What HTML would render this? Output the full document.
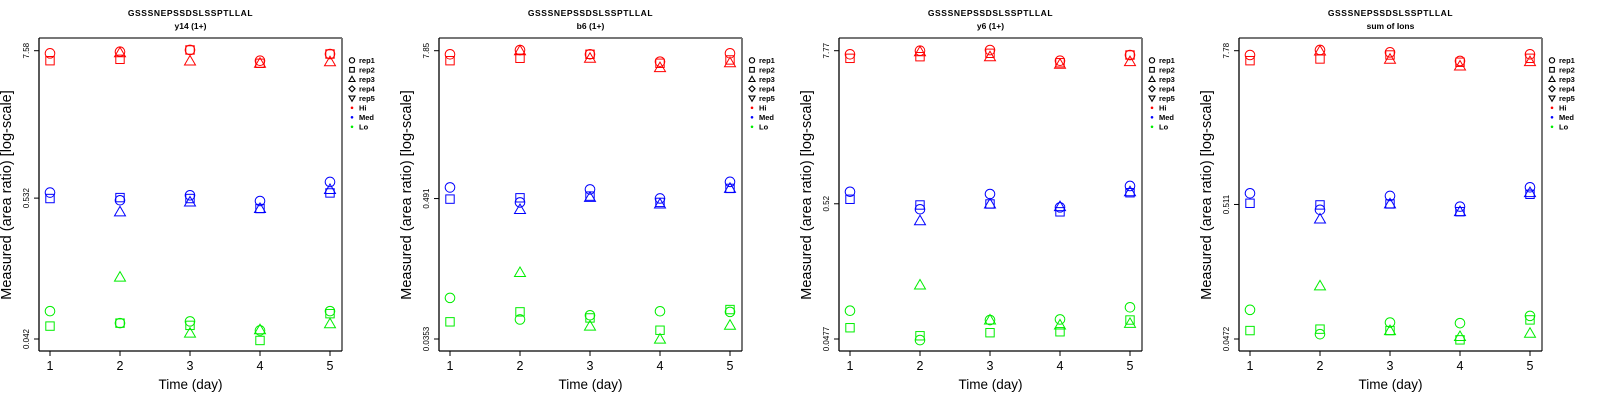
<!DOCTYPE html>
<html><head><meta charset="utf-8"><style>
html,body{margin:0;padding:0;background:#fff;}
svg{display:block;font-family:"Liberation Sans",sans-serif;}
</style></head><body>
<svg id="chart" width="1600" height="400" viewBox="0 0 1600 400" xmlns="http://www.w3.org/2000/svg"></svg>
<script>
const panelTitles = ["y14 (1+)", "b6 (1+)", "y6 (1+)", "sum of Ions"];
const peptide = "GSSSNEPSSDSLSSPTLLAL";
const days = [1, 2, 3, 4, 5];
const yTicks1 = ["7.58", "0.532", "0.042"];
const yTicks2 = ["7.85", "0.491", "0.0353"];
const yTicks3 = ["7.77", "0.52", "0.0477"];
const yTicks4 = ["7.78", "0.511", "0.0472"];
const legendLabels = ["rep1", "rep2", "rep3", "rep4", "rep5", "Hi", "Med", "Lo"];
// values per day: [rep1, rep2, rep3]
const p1Hi = [[7.23,6.33,null],[7.44,6.49,7.31],[7.68,7.68,6.30],[6.33,6.04,6.04],[7.14,7.14,6.21]];
const p1Med = [[0.588,0.528,null],[0.512,0.537,0.415],[0.560,0.528,0.496],[0.505,0.441,0.441],[0.712,0.584,0.621]];
const p1Lo = [[0.0694,0.0530,null],[0.0559,0.0559,0.128],[0.0577,0.0537,0.0467],[0.0490,0.0409,0.0496],[0.0694,0.0663,0.0553]];
const p2Hi = [[7.34,6.51,null],[7.95,6.81,7.85],[7.34,7.34,6.81],[6.39,6.20,5.71],[7.48,6.60,6.26]];
const p2Med = [[0.605,0.486,null],[0.457,0.498,0.400],[0.583,0.514,0.502],[0.492,0.457,0.443],[0.672,0.594,0.594]];
const p2Lo = [[0.0763,0.0487,null],[0.0509,0.0587,0.1228],[0.0551,0.0524,0.0449],[0.0594,0.0416,0.0352],[0.0587,0.0613,0.0457]];
const p3Hi = [[7.29,6.79,null],[7.77,6.99,7.63],[7.86,7.42,6.99],[6.51,6.28,6.11],[7.20,7.20,6.40]];
const p3Med = [[0.643,0.563,null],[0.472,0.509,0.385],[0.618,0.518,0.518],[0.488,0.451,0.494],[0.712,0.632,0.643]];
const p3Lo = [[0.0786,0.0582,null],[0.0468,0.0505,0.1237],[0.0667,0.0533,0.0667],[0.0674,0.0542,0.0611],[0.0835,0.0667,0.0629]];
const p4Hi = [[7.21,6.52,null],[7.88,6.72,7.74],[7.56,7.21,6.68],[6.49,6.34,5.93],[7.30,6.80,6.41]];
const p4Med = [[0.623,0.522,null],[0.465,0.507,0.395],[0.594,0.516,0.516],[0.492,0.450,0.450],[0.693,0.612,0.630]];
const p4Lo = [[0.0791,0.0548,null],[0.0514,0.0562,0.1208],[0.0632,0.0548,0.0548],[0.0625,0.0465,0.0493],[0.0711,0.0662,0.0523]];

const panels = [
  {ticks: yTicks1, groups: [p1Hi, p1Med, p1Lo]},
  {ticks: yTicks2, groups: [p2Hi, p2Med, p2Lo]},
  {ticks: yTicks3, groups: [p3Hi, p3Med, p3Lo]},
  {ticks: yTicks4, groups: [p4Hi, p4Med, p4Lo]}
];
const groupColors = ["#ff0000", "#0000ff", "#00ee00"];
const groupNames = ["hi", "med", "lo"];
const NS = "http://www.w3.org/2000/svg";
const svg = document.getElementById("chart");
function mk(tag, attrs, parent, text) {
  const e = document.createElementNS(NS, tag);
  for (const k in attrs) e.setAttribute(k, attrs[k]);
  if (text !== undefined) e.textContent = text;
  parent.appendChild(e);
  return e;
}
function marker(g, rep, cx, cy, color) {
  let e;
  const st = {fill: "none", stroke: color, "stroke-width": 1};
  if (rep === 0) e = mk("circle", Object.assign({cx: cx, cy: cy, r: 4.8}, st), g);
  else if (rep === 1) e = mk("rect", Object.assign({x: cx - 4.2, y: cy - 4.2, width: 8.4, height: 8.4}, st), g);
  else if (rep === 2) e = mk("polygon", Object.assign({points: `${cx},${cy-5.5} ${cx+5.5},${cy+4} ${cx-5.5},${cy+4}`}, st), g);
  else if (rep === 3) e = mk("polygon", Object.assign({points: `${cx},${cy-5.5} ${cx+5.5},${cy} ${cx},${cy+5.5} ${cx-5.5},${cy}`}, st), g);
  else e = mk("polygon", Object.assign({points: `${cx},${cy+5.5} ${cx+5.5},${cy-4} ${cx-5.5},${cy-4}`}, st), g);
  return e;
}
const L = 39, R = 342, T = 38, B = 351;
const XA = 50, XB = 330, YTOP = 50.7, YBOT = 339;
panels.forEach((p, pi) => {
  const ox = pi * 400;
  const g = mk("g", {transform: `translate(${ox},0)`}, svg);
  
  
  const lnMax = Math.log(parseFloat(p.ticks[0]));
  const lnMin = Math.log(parseFloat(p.ticks[2]));
  const yScale = v => YTOP + (lnMax - Math.log(v)) / (lnMax - lnMin) * (YBOT - YTOP);
  const xScale = d => XA + (d - days[0]) / (days[days.length - 1] - days[0]) * (XB - XA);
  const t1 = mk("text", {x: 190.5, y: 16, "text-anchor": "middle", "font-size": 8.5, "font-weight": "bold", "letter-spacing": "0.6"}, g, peptide);
  
  
  const t2 = mk("text", {x: 190.5, y: 29, "text-anchor": "middle", "font-size": 8.5, "font-weight": "bold"}, g, panelTitles[pi]);
  
  
  const frame = mk("g", {}, g);
  
  
  mk("line", {x1: L, y1: T, x2: R, y2: T, stroke: "#777", "stroke-width": 2}, frame);
  mk("line", {x1: R, y1: T, x2: R, y2: B, stroke: "#777", "stroke-width": 2}, frame);
  mk("line", {x1: L, y1: T, x2: L, y2: B, stroke: "#000", "stroke-width": 1.3}, frame);
  mk("line", {x1: L, y1: B, x2: R, y2: B, stroke: "#000", "stroke-width": 1.3}, frame);
  const xa = mk("g", {}, g);
  
  
  days.forEach(d => {
    const x = xScale(d);
    mk("line", {x1: x, y1: B, x2: x, y2: B + 5, stroke: "#000", "stroke-width": 1}, xa);
    const tl = mk("text", {x: x, y: 370, "text-anchor": "middle", "font-size": 12.5}, xa, String(d));
    
    
  });
  const xt = mk("text", {x: 190.5, y: 389, "text-anchor": "middle", "font-size": 13.5}, g, "Time (day)");
  
  
  const ya = mk("g", {}, g);
  
  
  p.ticks.forEach(t => {
    const y = yScale(parseFloat(t));
    mk("line", {x1: L - 5, y1: y, x2: L, y2: y, stroke: "#000", "stroke-width": 1}, ya);
    const tl = mk("text", {x: 0, y: 0, transform: `translate(29,${y}) rotate(-90)`, "text-anchor": "middle", "font-size": 8}, ya, t);
    
    
  });
  const yt = mk("text", {x: 0, y: 0, transform: `translate(11,195) rotate(-90)`, "text-anchor": "middle", "font-size": 14.5}, g, "Measured (area ratio) [log-scale]");
  
  
  p.groups.forEach((grp, gi) => {
    const sg = mk("g", {}, g);
    
    
    grp.forEach((vals, di) => {
      vals.forEach((v, ri) => {
        if (v === null) return;
        const m = marker(sg, ri, xScale(days[di]), yScale(v), groupColors[gi]);
        
        
      });
    });
  });
  const lg = mk("g", {}, g);
  
  
  legendLabels.forEach((lab, i) => {
    const y = 60.3 + i * 9.5;
    const eg = mk("g", {}, lg);
    
    
    if (i < 5) {
      const sym = mk("g", {transform: `translate(352,${y}) scale(0.55)`}, eg);
      const m = marker(sym, i, 0, 0, "#000");
      m.setAttribute('stroke-width', 2);
    } else {
      mk("circle", {cx: 352, cy: y, r: 1.3, fill: groupColors[i - 5]}, eg);
    }
    mk("text", {x: 359, y: y + 2.8, "font-size": 7.5, "font-weight": "bold"}, eg, lab);
  });
});
</script>
</body></html>
